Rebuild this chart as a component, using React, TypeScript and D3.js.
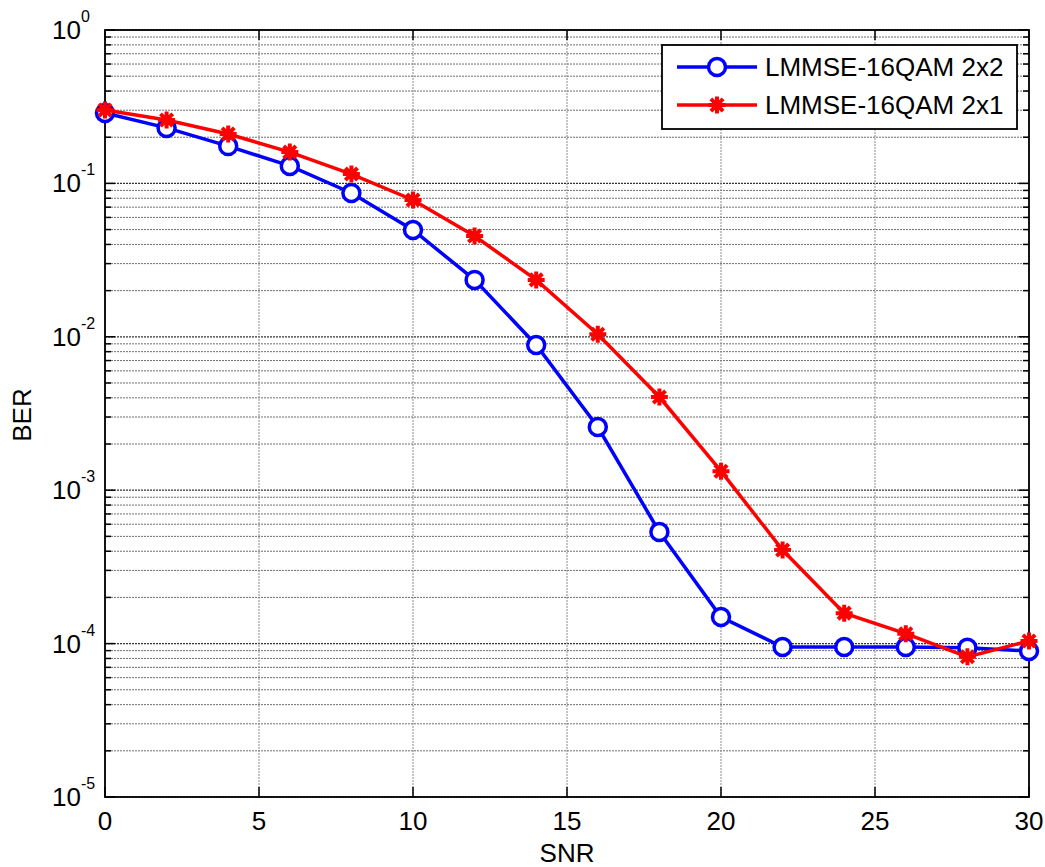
import React from "react";
import * as d3 from "d3";

const snr = [0, 2, 4, 6, 8, 10, 12, 14, 16, 18, 20, 22, 24, 26, 28, 30];
const ber2x2 = [0.288, 0.23, 0.175, 0.13, 0.0866, 0.0497, 0.0235, 0.00885, 0.00258, 5.34e-4, 1.49e-4, 9.5e-5, 9.5e-5, 9.5e-5, 9.4e-5, 8.95e-5];
const ber2x1 = [0.301, 0.259, 0.21, 0.16, 0.115, 0.078, 0.0454, 0.0235, 0.0104, 0.00405, 0.00133, 4.07e-4, 1.58e-4, 1.16e-4, 8.2e-5, 1.04e-4];
const xTicks = [0, 5, 10, 15, 20, 25, 30];
const yExponents = [0, -1, -2, -3, -4, -5];
const seriesNames = ["LMMSE-16QAM 2x2", "LMMSE-16QAM 2x1"];

const W = 1045;
const H = 867;
const L = 105, R = 1029, T = 30, B = 797;
const FONT = "'Liberation Sans', Arial, Helvetica, sans-serif";

export default function App() {
  const x = d3.scaleLinear().domain([0, 30]).range([L, R]);
  const y = d3.scaleLog().domain([1e-5, 1]).range([B, T]);

  const majorY = yExponents.map((e) => Math.pow(10, e));
  const minorY: number[] = [];
  for (let e = -5; e < 0; e++) for (let m = 2; m <= 9; m++) minorY.push(m * Math.pow(10, e));

  const line = d3.line<number>().x((_, i) => x(snr[i])).y((d) => y(d));

  const star = (cx: number, cy: number, r: number) => {
    const d = r * 0.72;
    return `M${cx - r},${cy}L${cx + r},${cy}M${cx},${cy - r}L${cx},${cy + r}M${cx - d},${cy - d}L${cx + d},${cy + d}M${cx - d},${cy + d}L${cx + d},${cy - d}`;
  };

  const legX = 662, legY = 45, legW = 355, legH = 84;
  const legRows = [67, 105];

  return (
    <svg width={W} height={H} style={{ position: "absolute", left: 0, top: 0, background: "#fff" }} fontFamily={FONT}>
      <rect x={0} y={0} width={W} height={H} fill="#fff" />
      {/* grid */}
      {minorY.map((v, i) => (
        <line key={"gm" + i} x1={L} x2={R} y1={y(v)} y2={y(v)} stroke="#6e6e6e" strokeWidth={1} strokeDasharray="2,1" />
      ))}
      {majorY.map((v, i) => (
        <line key={"gM" + i} x1={L} x2={R} y1={y(v)} y2={y(v)} stroke="#333" strokeWidth={1.2} strokeDasharray="2,1" />
      ))}
      {xTicks.map((v, i) => (
        <line key={"gx" + i} x1={x(v)} x2={x(v)} y1={T} y2={B} stroke="#8a8a8a" strokeWidth={1} strokeDasharray="2,1" />
      ))}
      {/* ticks */}
      {majorY.map((v, i) => (
        <g key={"tM" + i}>
          <line x1={L} x2={L + 10} y1={y(v)} y2={y(v)} stroke="#000" strokeWidth={1.5} />
          <line x1={R} x2={R - 10} y1={y(v)} y2={y(v)} stroke="#000" strokeWidth={1.5} />
        </g>
      ))}
      {minorY.map((v, i) => (
        <g key={"tm" + i}>
          <line x1={L} x2={L + 6} y1={y(v)} y2={y(v)} stroke="#000" strokeWidth={1.5} />
          <line x1={R} x2={R - 6} y1={y(v)} y2={y(v)} stroke="#000" strokeWidth={1.5} />
        </g>
      ))}
      {xTicks.map((v, i) => (
        <g key={"tx" + i}>
          <line x1={x(v)} x2={x(v)} y1={B} y2={B - 10} stroke="#000" strokeWidth={1.5} />
          <line x1={x(v)} x2={x(v)} y1={T} y2={T + 10} stroke="#000" strokeWidth={1.5} />
        </g>
      ))}
      {/* axes box */}
      <rect x={L} y={T} width={R - L} height={B - T} fill="none" stroke="#000" strokeWidth={1.8} />
      {/* tick labels */}
      {xTicks.map((v, i) => (
        <text key={"lx" + i} x={x(v)} y={830} textAnchor="middle" fontSize={26} fill="#000">{v}</text>
      ))}
      {yExponents.map((e, i) => (
        <g key={"ly" + i}>
          <text x={52} y={y(Math.pow(10, e)) + 9} fontSize={26} fill="#000">10</text>
          <text x={81} y={y(Math.pow(10, e)) - 8} fontSize={16} fill="#000">{e}</text>
        </g>
      ))}
      <text x={(L + R) / 2} y={862} textAnchor="middle" fontSize={26} fill="#000">SNR</text>
      <text transform={`translate(31,415) rotate(-90)`} textAnchor="middle" fontSize={26} fill="#000">BER</text>
      {/* series */}
      <path d={line(ber2x2) || ""} fill="none" stroke="#0000ff" strokeWidth={3.5} />
      {ber2x2.map((v, i) => (
        <circle key={"c" + i} cx={x(snr[i])} cy={y(v)} r={8.5} fill="#fff" stroke="#0000ff" strokeWidth={3.5} />
      ))}
      <path d={line(ber2x1) || ""} fill="none" stroke="#ff0000" strokeWidth={3.5} />
      {ber2x1.map((v, i) => (
        <path key={"s" + i} d={star(x(snr[i]), y(v), 8.5)} stroke="#ff0000" strokeWidth={4} fill="none" />
      ))}
      {/* legend */}
      <rect x={legX} y={legY} width={legW} height={legH} fill="#fff" stroke="#000" strokeWidth={1.8} />
      <line x1={677} x2={757} y1={legRows[0]} y2={legRows[0]} stroke="#0000ff" strokeWidth={3.5} />
      <circle cx={717} cy={legRows[0]} r={8.5} fill="#fff" stroke="#0000ff" strokeWidth={3.5} />
      <line x1={677} x2={757} y1={legRows[1]} y2={legRows[1]} stroke="#ff0000" strokeWidth={3.5} />
      <path d={star(717, legRows[1], 8.5)} stroke="#ff0000" strokeWidth={4} fill="none" />
      <text x={765} y={legRows[0] + 9} fontSize={26} fill="#000">{seriesNames[0]}</text>
      <text x={765} y={legRows[1] + 9} fontSize={26} fill="#000">{seriesNames[1]}</text>
    </svg>
  );
}
